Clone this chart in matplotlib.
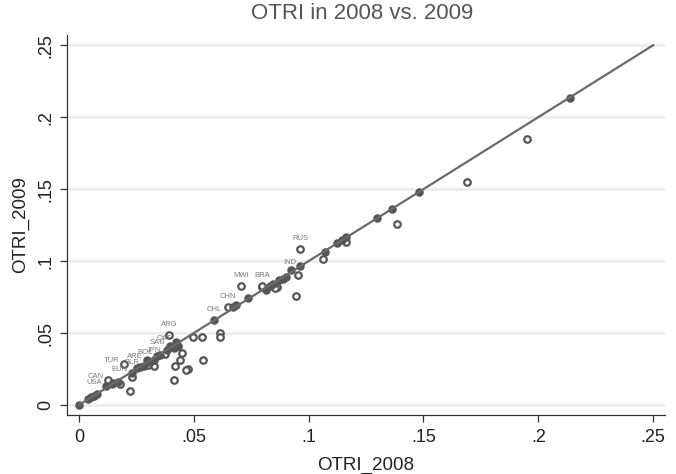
import numpy as np
import matplotlib.pyplot as plt

plt.rcParams['font.family'] = ['Liberation Sans', 'DejaVu Sans']

# labelled countries
lab_names = ["USA", "CAN", "EUN", "TUR", "BLR", "ARE", "BOL", "JPN", "SAU", "QAT",
             "ARG", "CHL", "CHN", "MWI", "BRA", "IND", "RUS"]
lab_2008 = [0.0118, 0.0126, 0.0231, 0.0196, 0.0283, 0.0296, 0.0340, 0.0375, 0.0396, 0.0422,
            0.0392, 0.0588, 0.0649, 0.0706, 0.0797, 0.0963, 0.0963]
lab_2009 = [0.0132, 0.0174, 0.0222, 0.0285, 0.0271, 0.0313, 0.0340, 0.0354, 0.0410, 0.0438,
            0.0486, 0.0590, 0.0681, 0.0826, 0.0826, 0.0965, 0.1083]

# other countries (no label)
otri_2008 = [0.0, 0.0039, 0.0052, 0.0065, 0.0078, 0.0144, 0.0170, 0.0179, 0.0148, 0.0222,
             0.0231, 0.0253, 0.0266, 0.0309, 0.0327, 0.0327, 0.0300, 0.0353, 0.0383, 0.0414,
             0.0427, 0.0431, 0.0449, 0.0440, 0.0418, 0.0475, 0.0466, 0.0414, 0.0497, 0.0536,
             0.0540, 0.0614, 0.0614, 0.0671, 0.0684, 0.0736, 0.0797, 0.0814, 0.0832, 0.0845,
             0.0862, 0.0854, 0.0871, 0.0889, 0.0902, 0.0923, 0.0954, 0.0945, 0.1063, 0.1071,
             0.1124, 0.1145, 0.1163, 0.1163, 0.1298, 0.1363, 0.1385, 0.1481, 0.1690, 0.1951,
             0.2138]
otri_2009 = [0.0, 0.0042, 0.0056, 0.0063, 0.0076, 0.0146, 0.0160, 0.0146, 0.0153, 0.0097,
             0.0194, 0.0257, 0.0264, 0.0299, 0.0313, 0.0271, 0.0278, 0.0347, 0.0382, 0.0396,
             0.0417, 0.0410, 0.0361, 0.0313, 0.0271, 0.0250, 0.0243, 0.0174, 0.0472, 0.0472,
             0.0313, 0.0500, 0.0472, 0.0681, 0.0694, 0.0743, 0.0819, 0.0799, 0.0826, 0.0840,
             0.0819, 0.0813, 0.0868, 0.0875, 0.0889, 0.0938, 0.0903, 0.0757, 0.1014, 0.1063,
             0.1125, 0.1146, 0.1167, 0.1132, 0.1299, 0.1361, 0.1257, 0.1479, 0.1549, 0.1847,
             0.2132]

ticks = [0, 0.05, 0.1, 0.15, 0.2, 0.25]
tick_labels = ["0", ".05", ".1", ".15", ".2", ".25"]

# label placement: 12 o'clock for the sparse ones, upper-left in the crowded cluster
above = {"ARG", "CHL", "CHN", "MWI", "BRA", "RUS"}

fig = plt.figure(figsize=(6.76, 4.74), dpi=100)
ax = fig.add_axes([0.099, 0.1245, 0.885, 0.8015])

x_all = np.array(otri_2008 + lab_2008)
y_all = np.array(otri_2009 + lab_2009)
on_line = np.abs(x_all - y_all) < 0.002

mc = '#555555'
ax.scatter(x_all[~on_line], y_all[~on_line], s=22, facecolors='white',
           edgecolors=mc, linewidths=1.6, zorder=3)
ax.scatter(x_all[on_line], y_all[on_line], s=26, color=mc, zorder=3)

for name, xv, yv in zip(lab_names, lab_2008, lab_2009):
    if name in above:
        ax.annotate(name, (xv, yv), xytext=(0, 5), textcoords='offset points',
                    ha='center', va='bottom', fontsize=5.5, color='#7a7a7a', zorder=4)
    else:
        ax.annotate(name, (xv, yv), xytext=(-3, 2.5), textcoords='offset points',
                    ha='right', va='center', fontsize=5.5, color='#7a7a7a', zorder=4)

ax.plot([0, 0.25], [0, 0.25], color='#6a6a6a', linewidth=1.6, zorder=4)

ax.set_xlim(-0.0052, 0.2552)
ax.set_ylim(-0.0069, 0.257)
ax.set_xticks(ticks)
ax.set_xticklabels(tick_labels)
ax.set_yticks(ticks)
ax.set_yticklabels(tick_labels, rotation=90, va='center')
ax.tick_params(labelsize=13, length=5, width=0.9, color='#333333', labelcolor='#222222')
ax.tick_params(axis='x', pad=5)
ax.tick_params(axis='y', pad=4)
ax.yaxis.grid(True, color='#ebebeb', linewidth=1.8)
ax.set_axisbelow(True)
for s in ['top', 'right']:
    ax.spines[s].set_visible(False)
for s in ['left', 'bottom']:
    ax.spines[s].set_color('#333333')
    ax.spines[s].set_linewidth(0.9)

ax.set_xlabel("OTRI_2008", fontsize=13.5, color='#222222', labelpad=8)
ax.set_ylabel("OTRI_2009", fontsize=13.5, color='#222222', labelpad=6)
fig.suptitle("OTRI in 2008 vs. 2009", x=0.536, y=0.994, va='top', fontsize=16, color='#555555')

fig.savefig("out.png", dpi=100)
